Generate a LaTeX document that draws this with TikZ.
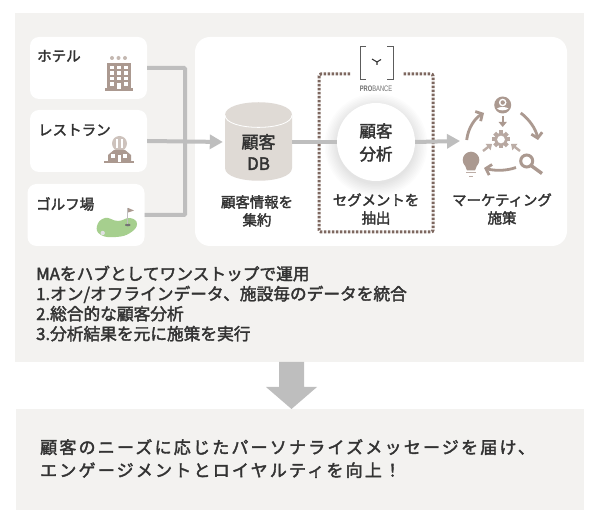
\documentclass[tikz,border=0pt]{standalone}
\usepackage{fontspec}
\usepackage{xcolor}
\usetikzlibrary{arrows.meta,calc,positioning}
\setmainfont[FakeBold=2.2]{Noto Sans CJK JP}
\newfontfamily\widefont[FakeBold=2.2,LetterSpace=13]{Noto Sans CJK JP}
\newfontfamily\logofont{Liberation Sans}
\definecolor{panelgray}{HTML}{F3F2F0}
\definecolor{linegray}{HTML}{BEBEBE}
\definecolor{dbgray}{HTML}{DFDAD5}
\definecolor{inkgray}{HTML}{333333}
\definecolor{iconbrown}{HTML}{AB9990}
\definecolor{dotbrown}{HTML}{7D675F}
\definecolor{golfgreen}{HTML}{A6CF8E}
\tikzset{%
	panel/.style = {fill=panelgray, draw=none},
	card/.style  = {fill=white, rounded corners=9pt, minimum width=117pt, minimum height=62pt, inner sep=0pt},
	cardtxt/.style = {text=inkgray, font=\fontsize{14.5}{17}\selectfont, inner sep=0pt, anchor=west},
	captxt/.style  = {text=inkgray, font=\fontsize{14.4}{18}\selectfont, inner sep=0pt, align=center},
	feed/.style  = {draw=linegray, line width=4pt},
	arrow/.style = {feed, -{Triangle[length=13pt,width=14pt]}},
	mini/.style  = {draw=iconbrown, line width=2.4pt, -{Triangle[length=5pt,width=8pt]}},
	cycle/.style = {draw=iconbrown, line width=2.8pt, -{Straight Barb[length=5pt,width=11pt]}},
}
\begin{document}
\begin{tikzpicture}[x=1pt,y=-1pt]
	\useasboundingbox (0,0) rectangle (600,526);
	% panels
	\fill[panel] (15,13) rectangle (584,362);
	\fill[panel] (16,409) rectangle (584,510);
	\node[fill=white, rounded corners=15pt, minimum width=372pt, minimum height=209pt, inner sep=0pt] (main) at (381,141.5) {};
	% down arrow
	\fill[linegray] (279,362) -- (304,362) -- (304,387) -- (317,387) -- (291.5,409) -- (266,387) -- (279,387) -- cycle;
	% source cards
	\node[card] (hotel) at (88.5,68) {};
	\node[card] (rest) at (88.5,141) {};
	\node[card] (golf) at (86,215) {};
	\node[cardtxt] (hoteltxt) at (37,56) {ホテル};
	\node[cardtxt] (resttxt) at (38,130) {レストラン};
	\node[cardtxt] (golftxt) at (36,204) {ゴルフ場};
	% feed lines
	\coordinate (bus) at (185,141);
	\draw[feed, rounded corners=1pt] (hotel.east) -| (bus);
	\draw[feed, rounded corners=1pt] (golf.east) -| (bus);
	% database
	\fill[dbgray] (225,115) .. controls (225,98) and (292,98) .. (292,115) -- (292,168) .. controls (292,185) and (225,185) .. (225,168) -- cycle;
	\draw[white, line width=0.8pt] (225,115) .. controls (225,131.5) and (292,131.5) .. (292,115);
	\node[minimum width=67pt, minimum height=78pt, inner sep=0pt] (db) at (258.5,142) {};
	\draw[arrow, shorten >=2pt] (rest.east) -- (db.west);
	\node[text=inkgray, font=\fontsize{17}{21}\selectfont, align=center, inner sep=0pt] (dbtxt) at (258.5,152) {顧客\\[0.5pt]DB};
	\node[captxt] (dbcap) at (257,211) {顧客情報を\\集約};
	% dotted frame
	\coordinate (frameL) at (350,74);
	\coordinate (frameR) at (403,74);
	\draw[dotbrown, line width=3pt, dash pattern=on 2.5pt off 1.5pt, rounded corners=2pt] (frameL) -- (319,74) -- (319,232) -- (433,232) -- (433,74) -- (frameR);
	% logo
	\draw[inkgray!80, line width=0.9pt] (366,46) -- (360,46) -- (360,79.5) -- (366,79.5);
	\draw[inkgray!80, line width=0.9pt] (387,46) -- (393,46) -- (393,79.5) -- (387,79.5);
	\draw[inkgray, line width=1.1pt] (372,59) -- (377,62) -- (381,59.5) (377,62) -- (377,65);
	\node[font=\logofont\fontsize{8}{8}\selectfont, text=inkgray!70, inner sep=0pt, xscale=0.72] (logotxt) at (376,88.5) {\textbf{PRO}BANCE};
	% circle
	\foreach \r in {39.5,41,...,52}
		\fill[black, opacity=0.012] (376,145) circle (\r);
	\coordinate (mk) at (460,141);
	\node[circle, minimum size=78pt, inner sep=0pt] (seg) at (376,142) {};
	\draw[feed] (db.east) -- (seg.west);
	\draw[arrow] (seg.east) -- (mk);
	\fill[white] (seg) circle (39);
	\node[text=inkgray, font=\fontsize{16.5}{23}\selectfont, align=center, inner sep=0pt] (segtxt) at (376,142.5) {顧客\\分析};
	\node[captxt] (segcap) at (376,209) {セグメントを\\抽出};
	\node[captxt] (mkcap) at (502,209) {マーケティング\\施策};
	% hotel icon
	\fill[iconbrown] (107,63) rectangle (131,89);
	\fill[iconbrown] (105,88.5) rectangle (132.5,91);
	\foreach \x in {112,118.5,125}
		\fill[iconbrown!70] (\x,58) circle (2);
	\foreach \x in {110,116.8,123.6} \foreach \y in {66,71.5,77}
		\fill[white] (\x,\y) rectangle ++(4,3.5);
	\foreach \x in {110,123.6}
		\fill[white] (\x,82.5) rectangle ++(4,3.5);
	\fill[white] (116.5,83) rectangle (121,89);
	% restaurant icon
	\fill[iconbrown!60] (119.5,143.5) circle (7.5);
	\draw[white, line width=1.1pt] (117,139) -- (117,148) (122,139) -- (122,148);
	\fill[iconbrown] (108,163) -- (108,155) -- (114,150) -- (125,150) -- (131,155) -- (131,163) -- cycle;
	\fill[iconbrown] (104,161.5) rectangle (134,163.5);
	\fill[white] (111,154) rectangle (115,158);
	\fill[white] (117.5,155) rectangle (121,162);
	\fill[white] (123,154) rectangle (127,158);
	% golf icon
	\fill[golfgreen] plot[smooth cycle, tension=0.8] coordinates {(97,226) (105,218) (118,221) (130,218) (137,224) (130,233) (116,237) (101,235)};
	\fill[blue!5!black!12] (102.7,233) circle (2.2);
	\fill[black!55] (127.8,225) ellipse [x radius=2.8, y radius=1.3];
	\draw[black!25, line width=0.8pt] (127.8,208) -- (127.8,224);
	\fill[iconbrown] (128.2,208) -- (134,210.5) -- (128.2,212.5) -- cycle;
	% marketing icon
	\fill[iconbrown] (502.7,105) circle (8.5);
	\fill[white] (502.7,102.5) circle (3.8);
	\fill[iconbrown] (502.7,102.5) circle (2.2);
	\fill[white] (497,108.5) .. controls (499,106.5) and (506,106.5) .. (508.5,108.5) .. controls (506,111) and (499,111) .. (497,108.5) -- cycle;
	\foreach \a in {0,45,...,315}
		\fill[iconbrown!85, rotate around={\a:(501,139.5)}] (499,130.5) rectangle (503,135);
	\draw[iconbrown!85, line width=2.8pt] (501,139.5) circle (5.5);
	\draw[mini] (502.7,116.5) -- (502.7,127);
	\draw[mini, draw=iconbrown!80] (483,151) -- (492,144);
	\draw[mini, draw=iconbrown!80] (520,151) -- (511,144);
	\draw[cycle] (466.7,140) .. controls (468,128) and (475,118) .. (484,113);
	\draw[cycle] (520.7,113) .. controls (529,119) and (536,129) .. (538,140);
	\draw[cycle] (516,167.5) .. controls (506,171) and (495,171) .. (484,168);
	\fill[iconbrown] (471,160) circle (8.3);
	\fill[iconbrown] (464.5,164) -- (477.5,164) -- (475,170.5) -- (467,170.5) -- cycle;
	\draw[iconbrown!80, line width=1.2pt] (466,172.5) -- (476,172.5) (469,176.5) -- (473,176.5);
	\draw[iconbrown, line width=3pt] (526.7,161) circle (6);
	\draw[iconbrown, line width=3.4pt] (531,165.5) -- (542,173.5);
	% texts below
	\node[text=inkgray, font=\fontsize{16.7}{20}\selectfont, align=left, anchor=north west, inner sep=0pt] (hubtxt) at (36,265.5) {MAをハブとしてワンストップで運用\\1.オン/オフラインデータ、施設毎のデータを統合\\2.総合的な顧客分析\\3.分析結果を元に施策を実行};
	\node[text=inkgray, font=\widefont\fontsize{17}{23}\selectfont, align=left, anchor=north west, inner sep=0pt] (goaltxt) at (40,439) {顧客のニーズに応じたパーソナライズメッセージを届け、\\エンゲージメントとロイヤルティを向上！};
\end{tikzpicture}
\end{document}
